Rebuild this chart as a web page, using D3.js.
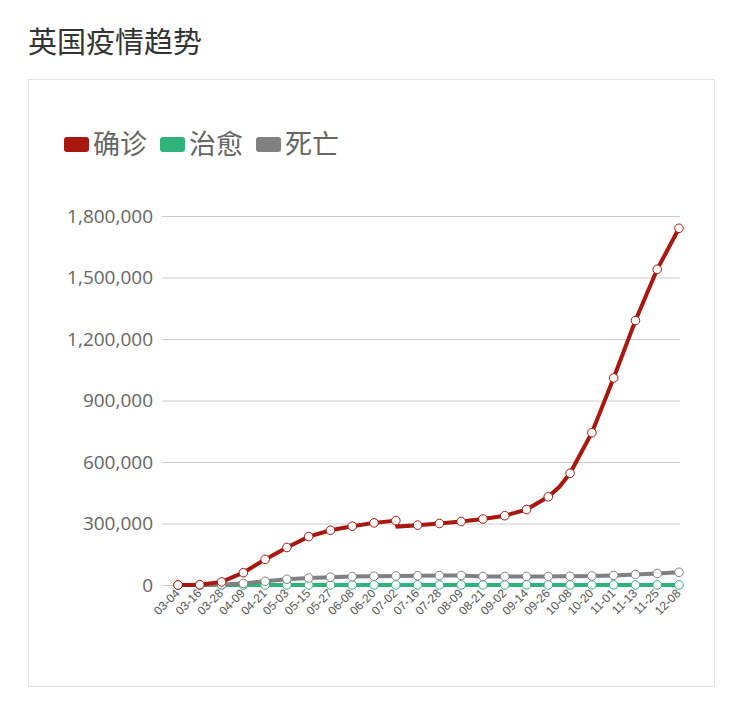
<!DOCTYPE html>
<html><head><meta charset="utf-8">
<script src="https://cdn.jsdelivr.net/npm/d3@7"></script>
<style>body{margin:0;background:#fff;font-family:"Open Sans","Noto Sans CJK SC",sans-serif}</style>
</head><body><svg id="c" width="742" height="712"></svg>
<script>
const tickDates = ["03-04","03-16","03-28","04-09","04-21","05-03","05-15","05-27","06-08","06-20","07-02","07-16","07-28","08-09","08-21","09-02","09-14","09-26","10-08","10-20","11-01","11-13","11-25","12-08"];
const dates     = ["03-04","03-16","03-28","04-09","04-21","05-03","05-15","05-27","06-08","06-20","07-02","07-03","07-16","07-28","08-09","08-21","09-02","09-14","09-26","10-02","10-08","10-20","11-01","11-13","11-25","12-08"];
const confirmed = [0,1500,15000,60000,125000,183000,236000,267000,287000,303000,314000,285000,292000,300000,310000,322000,338000,368000,430000,478000,545000,743000,1010000,1290000,1540000,1740000];
const recovered = [0,0,0,300,350,400,400,400,400,400,400,400,400,400,400,400,400,400,400,400,400,400,400,400,400,400];
const deaths    = [0,50,900,8000,18000,28000,34000,38000,41000,43000,44000,44000,45000,46000,46500,41400,41500,41700,42000,42300,42800,44000,46700,51300,56500,62000];
const yTicks = [0,300000,600000,900000,1200000,1500000,1800000];
const seriesNames = ["确诊","治愈","死亡"];
const colors = ["#a8180f","#2eb37a","#808080"];

const svg = d3.select("#c");
const parse = s => new Date(2020, +s.slice(0,2)-1, +s.slice(3));
// category position: index of tick date, fractional between ticks
function pos(s){
  const t = parse(s);
  let i = tickDates.findIndex(d=>parse(d)>t);
  if (i<0) return tickDates.length-1;
  const a = parse(tickDates[i-1]), b = parse(tickDates[i]);
  return i-1 + (t-a)/(b-a);
}
svg.append("text").attr("x",28).attr("y",53).attr("font-size",29).attr("fill","#333").text("英国疫情趋势");
svg.append("rect").attr("x",28.5).attr("y",79.5).attr("width",686).attr("height",607).attr("fill","none").attr("stroke","#e3e3e3");

const x = d3.scaleLinear().domain([0,tickDates.length-1]).range([178,679]);
const y = d3.scaleLinear().domain([0,1800000]).range([585,216]);

const gy = svg.append("g").attr("transform","translate(162,0)")
  .call(d3.axisLeft(y).tickValues(yTicks).tickSize(-518).tickFormat(d3.format(",")));
gy.select(".domain").remove();
gy.selectAll(".tick line").attr("stroke","#ccc");
gy.selectAll(".tick text").attr("font-size",19).attr("fill","#666").attr("x",-9).attr("font-family","Open Sans");

const gx = svg.append("g").attr("transform","translate(0,585)")
  .call(d3.axisBottom(x).tickValues(d3.range(tickDates.length)).tickSize(0).tickFormat(i=>tickDates[i]));
gx.select(".domain").remove();
gx.selectAll(".tick text").attr("font-size",12).attr("fill","#555").attr("text-anchor","end")
  .attr("transform","translate(-1,6) rotate(-45)").attr("dy","0.35em").attr("y",0);

const all = [confirmed,recovered,deaths];
[1,2,0].forEach(i=>{
  const data = dates.map((d,j)=>({p:pos(d),v:all[i][j],t:tickDates.includes(d)}));
  svg.append("path").datum(data).attr("fill","none").attr("stroke",colors[i]).attr("stroke-width",4)
    .attr("d",d3.line().x(p=>x(p.p)).y(p=>y(p.v)));
  svg.selectAll(null).data(data.filter(p=>p.t)).join("circle")
    .attr("cx",p=>x(p.p)).attr("cy",p=>y(p.v)).attr("r",4.3)
    .attr("fill","#fff").attr("stroke",colors[i]).attr("stroke-width",1);
});

let lx = 64;
seriesNames.forEach((n,i)=>{
  svg.append("rect").attr("x",lx).attr("y",137).attr("width",25).attr("height",15).attr("rx",3).attr("fill",colors[i]);
  const t = svg.append("text").attr("x",lx+29).attr("y",154).attr("font-size",27).attr("fill","#666").text(n);
  lx += 29 + t.node().getComputedTextLength() + 13;
});
</script></body></html>
